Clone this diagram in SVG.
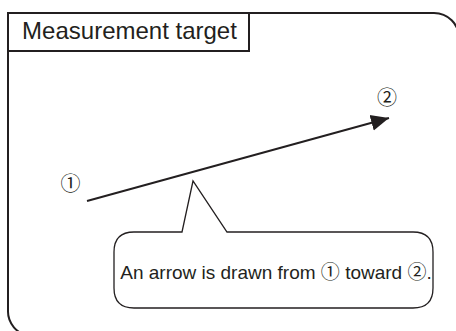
<svg xmlns="http://www.w3.org/2000/svg" width="456" height="331" viewBox="0 0 456 331">
<style>
.ln{fill:none;stroke:#231f20;stroke-width:2}
.thin{fill:#fff;stroke:#231f20;stroke-width:1.3}
.t{font-family:"Liberation Sans","Noto Sans CJK JP",Arial,sans-serif;fill:#231f20}
</style>
<defs>
<marker id="ah" markerUnits="userSpaceOnUse" markerWidth="20" markerHeight="20" refX="18" refY="8" orient="auto" viewBox="0 0 20 16">
<path d="M0,0 L18,8 L0,16 Z" fill="#231f20"/>
</marker>
</defs>
<rect width="456" height="331" fill="#fff"/>
<g id="frame">
<path class="ln" d="M8,13 L8,310 A25,25 0 0 0 30,336 M8,13 L434,13 A25,25 0 0 1 459,38"/>
</g>
<g id="title">
<rect x="8" y="13" width="241" height="38" fill="#fff" stroke="#231f20" stroke-width="2"/>
<text class="t" x="129.5" y="39" font-size="24" text-anchor="middle">Measurement target</text>
</g>
<g id="connectors">
<line class="ln" x1="87" y1="201" x2="389" y2="118" marker-end="url(#ah)"/>
</g>
<g id="p1"><text class="t" x="70.5" y="191" font-size="20" text-anchor="middle">①</text></g>
<g id="p2"><text class="t" x="387" y="105" font-size="20" text-anchor="middle">②</text></g>
<g id="callout">
<path class="thin" d="M134,232 L182,232 L193,181 L227,232 L413,232 Q433,232 433,252 L433,288 Q433,308 413,308 L134,308 Q114,308 114,288 L114,252 Q114,232 134,232 Z"/>
<text class="t" x="276" y="279" font-size="19" text-anchor="middle">An arrow is drawn from ① toward ②.</text>
</g>
</svg>
